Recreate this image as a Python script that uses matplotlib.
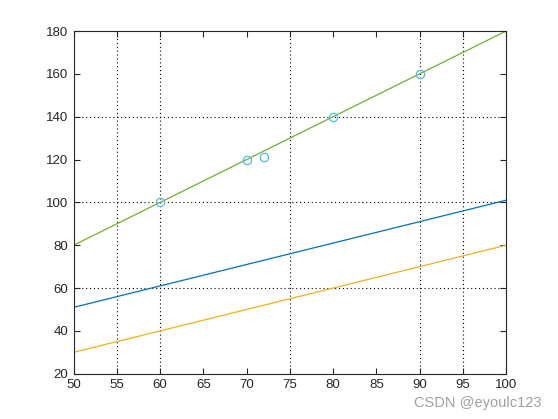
import matplotlib
matplotlib.use("Agg")
import matplotlib.pyplot as plt

# data
line_x = [50, 100]
blue_y = [51, 101]
orange_y = [30, 80]
green_y = [80, 180]

pts_x = [60, 70, 72, 80, 90]
pts_y = [100, 120, 121, 140, 160]

vgrid = [55, 60, 75, 90, 95]
hgrid = [60, 100, 140]

xticks = list(range(50, 101, 5))
yticks = list(range(20, 181, 20))

plt.rcParams['font.family'] = ['Liberation Sans', 'DejaVu Sans']

fig = plt.figure(figsize=(5.58, 4.19), dpi=100)
ax = fig.add_axes([0.132, 0.108, 0.775, 0.818])

for x in vgrid:
    ax.axvline(x, color='k', lw=0.8, ls=(0, (1, 2.5)), zorder=1)
for y in hgrid:
    ax.axhline(y, color='k', lw=0.8, ls=(0, (1, 2.5)), zorder=1)

ax.plot(line_x, blue_y, color='#0072BD', lw=0.9, zorder=2)
ax.plot(line_x, orange_y, color='#EDB120', lw=0.9, zorder=2)
ax.plot(line_x, green_y, color='#77AC30', lw=0.9, zorder=2)
ax.plot(pts_x, pts_y, 'o', mfc='none', mec='#4DBEEE', ms=6, mew=0.9, zorder=3)

ax.set_xlim(50, 100)
ax.set_ylim(20, 180)
ax.set_xticks(xticks)
ax.set_yticks(yticks)
ax.tick_params(direction='in', top=True, right=True, length=4, width=0.8,
               labelsize=9.5, colors='#262626', pad=4)
for s in ax.spines.values():
    s.set_color('#262626')
    s.set_linewidth(0.8)

fig.text(0.971, 0.029, 'CSDN @eyoulc123', ha='right', va='baseline',
         fontsize=10.5, color='#a0a0a0')

fig.savefig('out.png', dpi=100)
